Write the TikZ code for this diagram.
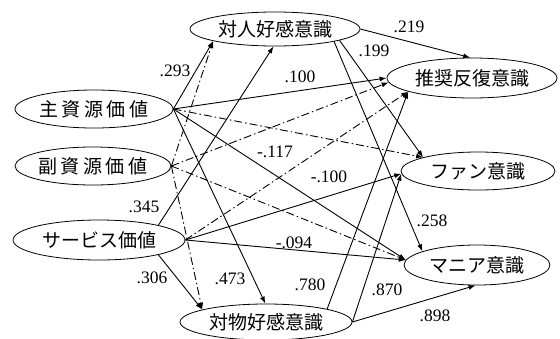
\documentclass[tikz,border=0pt]{standalone}
\usepackage{fontspec}
\setmainfont{Liberation Serif}
\newfontfamily\jp{Noto Sans CJK JP}
\usetikzlibrary{shapes.geometric,arrows.meta}
\begin{document}
\begin{tikzpicture}[x=1pt,y=-1pt,
  var/.style={draw, ellipse, inner sep=0pt, line width=0.8pt, font=\jp\fontsize{19}{19}\selectfont},
  pth/.style={draw, line width=0.9pt, -{Latex[length=7pt,width=5pt]}},
  ns/.style={pth, dash pattern=on 8pt off 3pt on 1.5pt off 3pt},
  coef/.style={font=\fontsize{17.5}{17.5}\selectfont, inner sep=0pt}]
\useasboundingbox (0,0) rectangle (560,338);
\fill[white] (0,0) rectangle (560,338);

\node[var, minimum width=170pt, minimum height=34pt] (duiren) at (275,29) {対人好感意識};
\node[var, minimum width=158pt, minimum height=38pt] (zhu) at (94,109) {主\hspace{3.5pt}資\hspace{3.5pt}源\hspace{3.5pt}価\hspace{3.5pt}値};
\node[var, minimum width=156pt, minimum height=38pt] (fu) at (93,166) {副\hspace{3.5pt}資\hspace{3.5pt}源\hspace{3.5pt}価\hspace{3.5pt}値};
\node[var, minimum width=172pt, minimum height=40pt] (sv) at (99,240) {サービス価値};
\node[var, minimum width=170pt, minimum height=40pt] (tui) at (472,78) {推奨反復意識};
\node[var, minimum width=154pt, minimum height=38pt] (fan) at (478,171) {ファン意識};
\node[var, minimum width=146pt, minimum height=40pt] (mania) at (477,265) {マニア意識};
\node[var, minimum width=172pt, minimum height=36pt] (duiwu) at (266,322) {対物好感意識};

% significant paths
\draw[pth] (zhu.east) -- (duiren.191);
\draw[pth] (sv.14) -- (duiren.265);
\draw[pth] (zhu.east) -- (tui.west);
\draw[pth] (duiren.east) -- (tui.95);
\draw[pth] (duiren.-10) -- (fan.166);
\draw[pth] (duiren.-12) -- (mania.166);
\draw[pth] (zhu.east) -- (mania.176);
\draw[pth] (sv.east) -- (fan.182);
\draw[pth] (sv.east) -- (mania.176);
\draw[pth] (sv.-14) -- (duiwu.169);
\draw[pth] (zhu.east) -- (duiwu.92);
\draw[pth] (duiwu.12) -- (tui.192);
\draw[pth] (duiwu.east) -- (fan.182);
\draw[pth] (duiwu.east) -- (mania.266);

% non-significant paths
\draw[ns] (fu.east) -- (duiren.191);
\draw[ns] (fu.east) -- (tui.183);
\draw[ns] (fu.east) -- (mania.176);
\draw[ns] (fu.east) -- (duiwu.169);
\draw[ns] (zhu.east) -- (fan.166);
\draw[ns] (sv.east) -- (tui.192);

% coefficients
\node[coef] (c293) at (175,71) {.293};
\node[coef] (c100a) at (300,77) {.100};
\node[coef] (c219) at (409,27) {.219};
\node[coef] (c199) at (374,51) {.199};
\node[coef] (c117) at (275,152) {-.117};
\node[coef] (c100b) at (329,177) {-.100};
\node[coef] (c345) at (144,207) {.345};
\node[coef] (c094) at (294,243) {-.094};
\node[coef] (c306) at (152,278) {.306};
\node[coef] (c473) at (230,279) {.473};
\node[coef] (c780) at (310,285) {.780};
\node[coef] (c870) at (387,290) {.870};
\node[coef] (c898) at (435,316) {.898};
\node[coef] (c258) at (432,221) {.258};
\end{tikzpicture}
\end{document}
